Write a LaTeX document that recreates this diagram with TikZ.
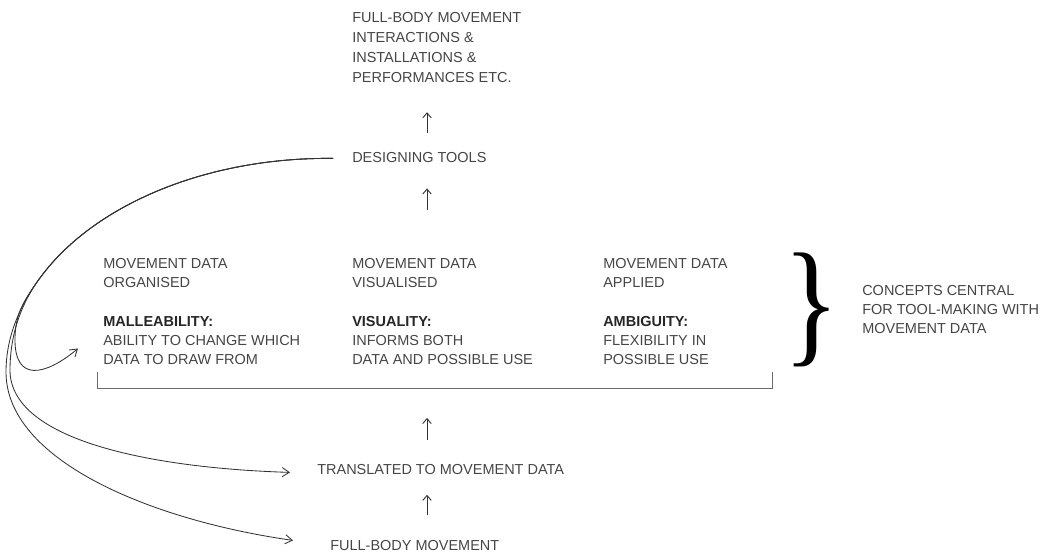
\documentclass[tikz,border=0pt]{standalone}
\usepackage{fontspec}
\setmainfont{Liberation Sans}
\newfontfamily\bracefont{Liberation Serif}
\usepackage{graphicx}
\usetikzlibrary{positioning,arrows.meta}
\definecolor{ink}{HTML}{454545}
\definecolor{stroke}{HTML}{333333}
\tikzset{>={Straight Barb[length=3.5pt,width=6pt]}}

\begin{document}
\begin{tikzpicture}[
    x=0.025cm, y=-0.025cm,
    caption/.style={inner sep=0pt, anchor=north west, align=left, text=ink,
        font=\fontsize{10.3}{13.6}\selectfont},
    concept/.style={caption, below=20pt of #1.south west, anchor=north west},
    flow/.style={->, draw=stroke, line width=0.65pt},
    feedback/.style={-{Straight Barb[length=5pt,width=6.5pt]}, draw=stroke, line width=0.6pt}
]
\useasboundingbox (0,0) rectangle (1047,556);

% main column
\node[caption, font=\fontsize{10.3}{14.2}\selectfont] (outcome) at (352,12)
    {FULL-BODY MOVEMENT\\INTERACTIONS \&\\INSTALLATIONS \&\\PERFORMANCES ETC.};
\node[caption] (designing) at (352,152) {DESIGNING TOOLS};
\node[caption] (translated) at (317,464) {TRANSLATED TO MOVEMENT DATA};
\node[caption] (fullbody) at (330,540) {FULL-BODY MOVEMENT};

% the three stages and their concepts
\node[caption] (colOne) at (103,258) {MOVEMENT DATA\\ORGANISED};
\node[caption] (colTwo) at (352,258) {MOVEMENT DATA\\VISUALISED};
\node[caption] (colThree) at (603,258) {MOVEMENT DATA\\APPLIED};
\node[concept=colOne] (malleab)
    {\textcolor{black!85}{\textbf{MALLEABILITY:}}\\ABILITY TO CHANGE WHICH\\DATA TO DRAW FROM};
\node[concept=colTwo] (visual)
    {\textcolor{black!85}{\textbf{VISUALITY:}}\\INFORMS BOTH\\DATA AND POSSIBLE USE};
\node[concept=colThree] (ambig)
    {\textcolor{black!85}{\textbf{AMBIGUITY:}}\\FLEXIBILITY IN\\POSSIBLE USE};

% brace and note
\node[inner sep=0pt, text=black] (brace) at (812,310)
    {\bracefont\scalebox{0.85}[1]{\fontsize{98}{98}\selectfont\}}};
\node[caption] (central) at (862,285)
    {CONCEPTS CENTRAL\\FOR TOOL-MAKING WITH\\MOVEMENT DATA};

% bracket under the stages
\coordinate (spine) at (427,0);
\coordinate (bracketL) at (97,388);
\coordinate (bracketR) at (772,388);
\draw[draw=ink!80, line width=0.65pt] (97,372) -- (bracketL) -- (bracketR) -- (772,372);

% upward arrows
\draw[flow, shorten <=17.8pt, shorten >=14.2pt] (fullbody.north -| spine) -- (translated.south -| spine);
\draw[flow, shorten <=17.1pt, shorten >=21.3pt] (translated.north -| spine) -- (bracketL -| spine);
\draw[flow, shorten <=34.1pt, shorten >=18.2pt] (colTwo.north -| spine) -- (designing.south -| spine);
\draw[flow, shorten <=13.5pt, shorten >=21pt] (designing.north -| spine) -- (outcome.south -| spine);

% feedback loops back from the tools, sharing one elliptic sweep before they split
\coordinate (split) at (38.5,280);
\draw[feedback] ([shift={(-19,1)}]designing.west) .. controls (206.7,157) and (91.9,205) .. (split)
    .. controls (22,303) and (15,316) .. (15,340)
    .. controls (15,382) and (45,376) .. ([shift={(-25,8)}]malleab.west);
\draw[feedback] ([shift={(-19,1)}]designing.west) .. controls (206.7,157) and (91.9,205) .. (split)
    .. controls (18.5,308) and (10,339) .. (10,370)
    .. controls (10,440) and (150,468) .. ([shift={(-27,3)}]translated.west);
\draw[feedback] ([shift={(-19,1)}]designing.west) .. controls (206.7,157) and (91.9,205) .. (split)
    .. controls (17.5,309) and (6,340) .. (6,372)
    .. controls (6,460) and (150,520) .. ([shift={(-37,-5)}]fullbody.west);
\end{tikzpicture}
\end{document}
